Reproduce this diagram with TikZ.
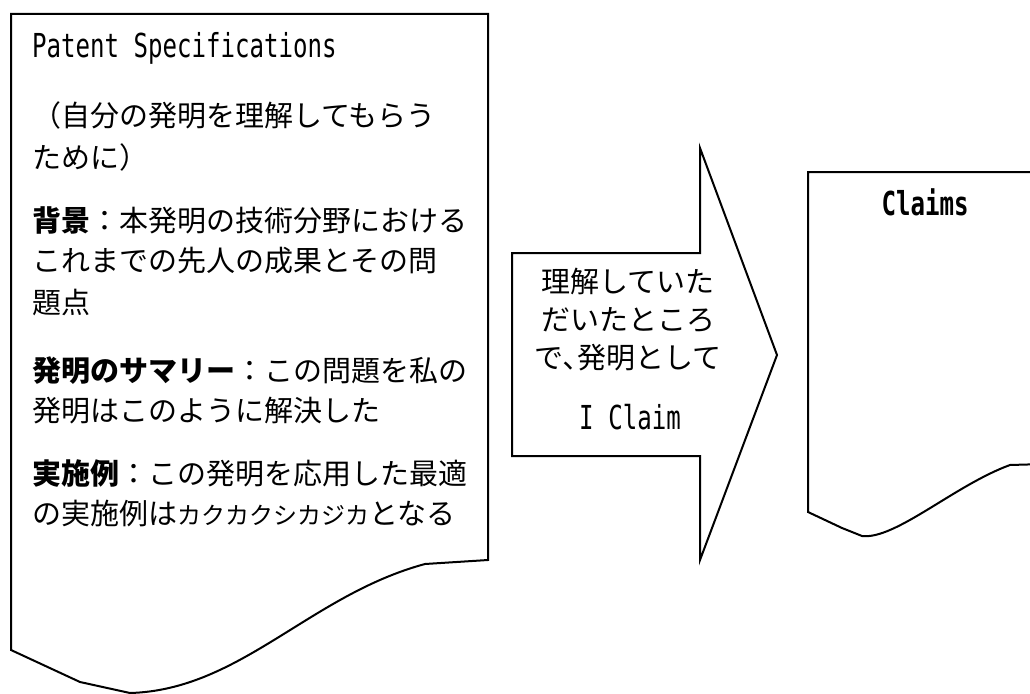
\documentclass[tikz,border=0pt]{standalone}
\usepackage{fontspec}
\newfontfamily\jp{Noto Sans CJK JP}
\newfontfamily\mono[FakeStretch=0.73]{DejaVu Sans Mono}
\tikzset{
  shapeline/.style={draw=black, line width=2pt, line join=miter, fill=white},
  jline/.style={inner sep=0pt, anchor=base west, font=\jp\fontsize{29pt}{29pt}\selectfont},
  jcenter/.style={inner sep=0pt, anchor=base, font=\jp\fontsize{29pt}{29pt}\selectfont},
  mline/.style={inner sep=0pt, anchor=base west, font=\mono\fontsize{33pt}{33pt}\selectfont},
  mcenter/.style={inner sep=0pt, anchor=base, font=\mono\fontsize{33pt}{33pt}\selectfont},
}
\begin{document}
\begin{tikzpicture}[x=1pt,y=-1pt]
\useasboundingbox (0,0) rectangle (1030,693);
\clip (0,0) rectangle (1030,693);
% left document
\draw[shapeline] (11,14) -- (488,14) -- (488,560) -- (425,564)
  .. controls (310,595) and (240,690) .. (130,693)
  -- (80,682) -- (11,650) -- cycle;
% arrow
\draw[shapeline] (512,253) -- (700,253) -- (700,148) -- (777,355) -- (700,560) -- (700,456) -- (512,456) -- cycle;
% right document
\draw[shapeline] (1045,172) -- (808,172) -- (808,512) -- (842,528) -- (862,536)
  .. controls (895,540) and (955,485) .. (1010,465) -- (1045,464) -- cycle;
% left text
\node[mline] (t0) at (32,57) {Patent Specifications};
\node[jline] (t1) at (32,126) {（自分の発明を理解してもらう};
\node[jline] (t2) at (32,168) {ために）};
\node[jline] (t3) at (32,231) {{\bfseries 背景}：本発明の技術分野における};
\node[jline] (t4) at (32,271) {これまでの先人の成果とその問};
\node[jline] (t5) at (32,313) {題点};
\node[jline] (t6) at (32,381) {{\bfseries 発明のサマリー}：この問題を私の};
\node[jline] (t7) at (32,421) {発明はこのように解決した};
\node[jline] (t8) at (32,484) {{\bfseries 実施例}：この発明を応用した最適};
\node[jline] (t9) at (32,524) {の実施例は{\fontsize{24pt}{24pt}\selectfont カクカクシカジカ}となる};
% arrow text
\node[jcenter] (a1) at (628,292) {理解していた};
\node[jcenter] (a2) at (628,330) {だいたところ};
\node[jcenter] (a3) at (628,368) {で､発明として};
\node[mcenter] (a4) at (630,429) {I Claim};
% right text
\node[mcenter,font=\mono\bfseries\fontsize{33pt}{33pt}\selectfont] (c1) at (925,215) {Claims};
\end{tikzpicture}
\end{document}
